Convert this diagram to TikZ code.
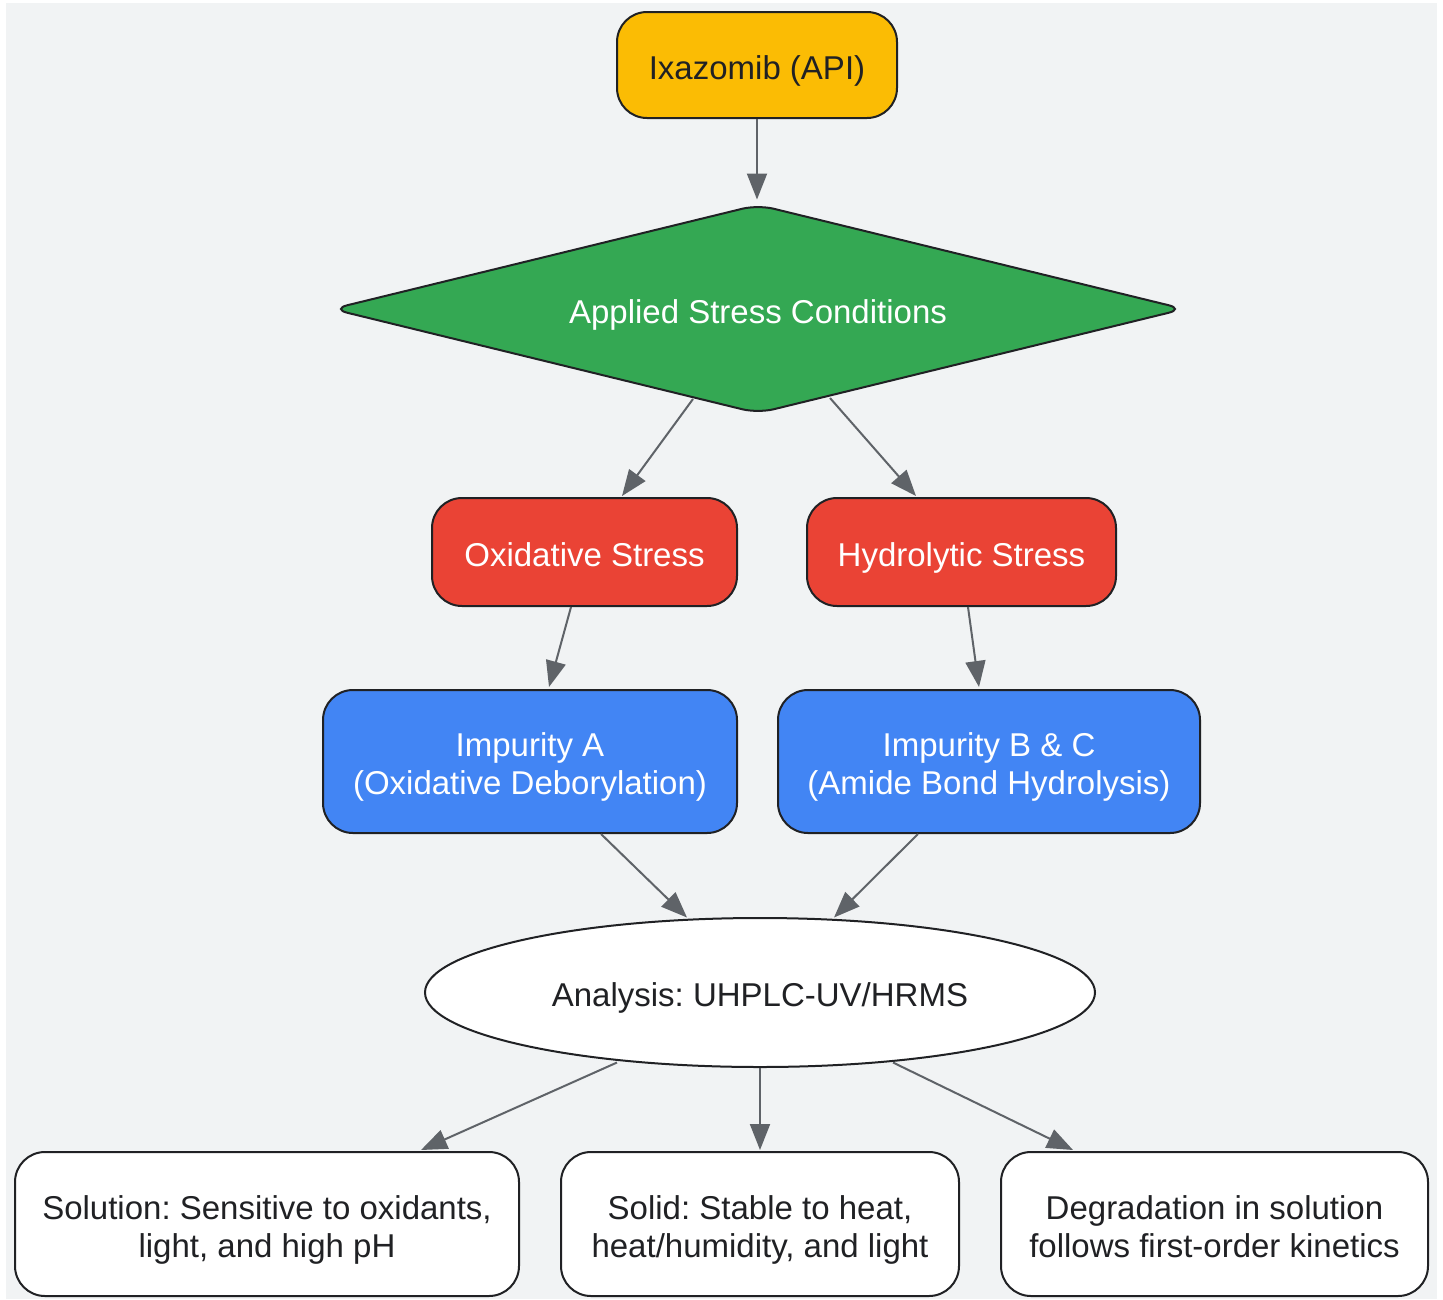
\documentclass[tikz,border=0pt]{standalone}
\usepackage{fontspec}
\setmainfont{Liberation Sans}
\usetikzlibrary{shapes.geometric,arrows.meta,calc}
\definecolor{bggray}{HTML}{F1F3F4}
\definecolor{ylw}{HTML}{FBBC04}
\definecolor{grn}{HTML}{34A853}
\definecolor{rd}{HTML}{EA4335}
\definecolor{blu}{HTML}{4285F4}
\definecolor{edgegray}{HTML}{5F6368}
\definecolor{darktext}{HTML}{202124}
\definecolor{borderc}{HTML}{202124}
\newcommand\mystrut{\vrule height 35pt depth 7pt width 0pt\relax}
\newcommand\myfont{\fontsize{33}{38}\selectfont\setlength{\lineskiplimit}{-20pt}\frenchspacing}
\frenchspacing
\begin{document}
\begin{tikzpicture}[x=1pt,y=-1pt,
  txt/.style={font=\myfont, align=center},
  box/.style={txt, draw=borderc, line width=2pt, rounded corners=30pt, inner sep=0pt},
  conn/.style={draw=edgegray, line width=2pt, -{Triangle[length=26pt,width=20pt]}}
]
\fill[white] (0,0) rectangle (1443,1299);
\useasboundingbox (0,0) rectangle (1443,1299);
\fill[bggray] (6,3) rectangle (1437,1299);

\node[box, fill=ylw, text=darktext, minimum width=280pt, minimum height=106pt] (api) at (757,65) {\mystrut Ixazomib (API)};
\node[txt, diamond, aspect=4.1, draw=borderc, line width=2pt, fill=grn, text=white, rounded corners=16pt, inner sep=0pt, minimum width=853pt, minimum height=209pt] (d) at (758,309) {\mystrut Applied Stress Conditions};
\node[box, fill=rd, text=white, minimum width=305pt, minimum height=108pt] (ox) at (584.5,552) {\mystrut Oxidative Stress};
\node[box, fill=rd, text=white, minimum width=309pt, minimum height=108pt] (hy) at (961.5,552) {\mystrut Hydrolytic Stress};
\node[box, fill=blu, text=white, minimum width=414pt, minimum height=143pt] (ia) at (530,761.5) {\mystrut Impurity A\\\mystrut(Oxidative Deborylation)};
\node[box, fill=blu, text=white, minimum width=422pt, minimum height=143pt] (ib) at (989,761.5) {\mystrut Impurity B \& C\\\mystrut(Amide Bond Hydrolysis)};
\node[txt, ellipse, draw=borderc, line width=2pt, fill=white, text=darktext, inner sep=0pt, minimum width=670pt, minimum height=149pt] (an) at (760,992.5) {\mystrut Analysis: UHPLC-UV/HRMS};
\node[box, fill=white, text=darktext, minimum width=504pt, minimum height=144pt] (b1) at (267,1224) {\mystrut Solution: Sensitive to oxidants,\\\mystrut light, and high pH};
\node[box, fill=white, text=darktext, minimum width=398pt, minimum height=144pt] (b2) at (760,1224) {\mystrut Solid: Stable to heat,\\\mystrut heat/humidity, and light};
\node[box, fill=white, text=darktext, minimum width=427pt, minimum height=144pt] (b3) at (1214.5,1224) {\mystrut Degradation in solution\\\mystrut follows first-order kinetics};

\draw[conn] (api.south) -- ([xshift=-1pt,yshift=4pt]d.north);
\draw[conn] ($(d.center)+(-65,90)$) -- ([xshift=37.5pt,yshift=1pt]ox.north);
\draw[conn] ($(d.center)+(72,89)$) -- ([xshift=-45.5pt,yshift=1pt]hy.north);
\draw[conn] ([xshift=-13.5pt]ox.south) -- ([xshift=19pt,yshift=2pt]ia.north);
\draw[conn] ([xshift=6.5pt]hy.south) -- ([xshift=-10pt,yshift=2pt]ib.north);
\draw[conn] ([xshift=71pt]ia.south) -- ($(an.center)+(-73,-75)$);
\draw[conn] ([xshift=-71pt]ib.south) -- ($(an.center)+(74,-75)$);
\draw[conn] ($(an.center)+(-143,70)$) -- ([xshift=154pt,yshift=1pt]b1.north);
\draw[conn] (an.south) -- ([yshift=1pt]b2.north);
\draw[conn] ($(an.center)+(133,70)$) -- ([xshift=-141.5pt,yshift=1pt]b3.north);
\end{tikzpicture}
\end{document}
